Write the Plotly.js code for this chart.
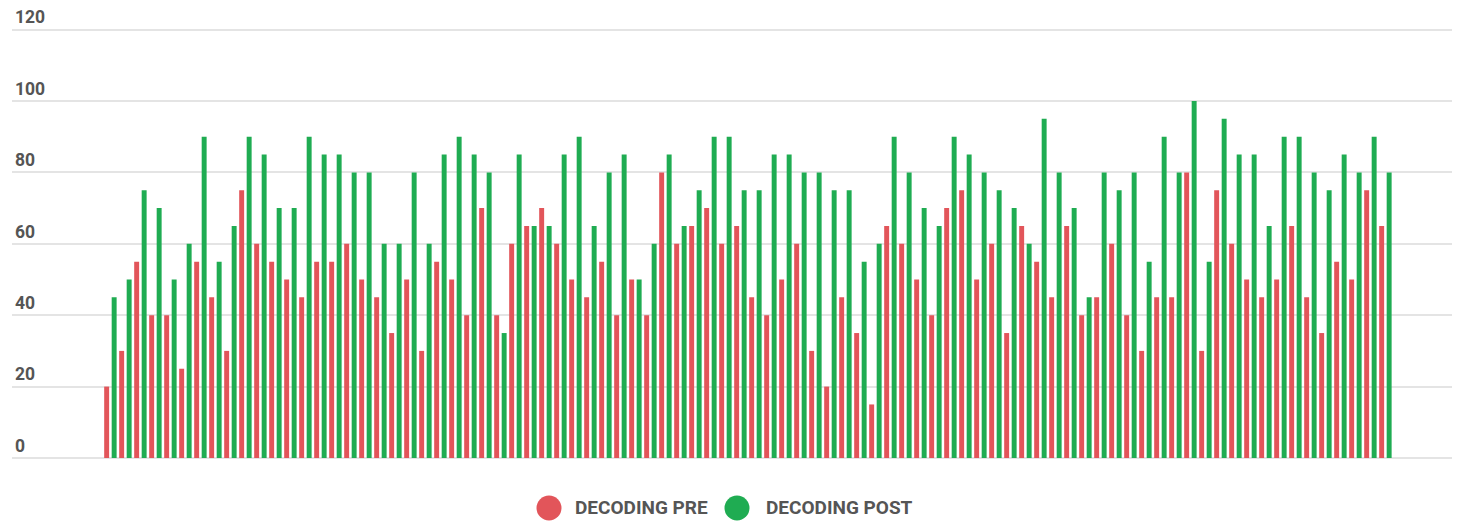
<!DOCTYPE html>
<html>
<head>
<meta charset="utf-8">
<script src="https://cdn.plot.ly/plotly-3.0.1.min.js"></script>
<style>
html,body{margin:0;padding:0;background:#fff;}
#chart{width:1462px;height:521px;}
</style>
</head>
<body>
<div id="chart"></div>
<script>
var categories = [1,2,3,4,5,6,7,8,9,10,11,12,13,14,15,16,17,18,19,20,
  21,22,23,24,25,26,27,28,29,30,31,32,33,34,35,36,37,38,39,40,
  41,42,43,44,45,46,47,48,49,50,51,52,53,54,55,56,57,58,59,60,
  61,62,63,64,65,66,67,68,69,70,71,72,73,74,75,76,77,78,79,80,
  81,82,83,84,85,86];

var decodingPre = [20,30,55,40,40,25,55,45,30,75,60,55,50,45,55,55,60,50,45,35,
  50,30,55,50,40,70,40,60,65,70,60,50,45,55,40,50,40,80,60,65,
  70,60,65,45,40,50,60,30,20,45,35,15,65,60,50,40,70,75,50,60,
  35,65,55,45,65,40,45,60,40,30,45,45,80,30,75,60,50,45,50,65,
  45,35,55,50,75,65];

var decodingPost = [45,50,75,70,50,60,90,55,65,90,85,70,70,90,85,85,80,80,60,60,
  80,60,85,90,85,80,35,85,65,65,85,90,65,80,85,50,60,85,65,75,
  90,90,75,75,85,85,80,80,75,75,55,60,90,80,70,65,90,85,80,75,
  70,60,95,80,70,45,80,75,80,55,90,80,100,55,95,85,85,65,90,90,
  80,75,85,80,90,80];

var seriesNames = ["DECODING PRE", "DECODING POST"];
var yTicks = [0,20,40,60,80,100,120];

var RED = "#e2555a", GREEN = "#1fac52", TXT = "#555555";
var W = 1462, H = 521;
var M = {l: 12, r: 10, t: 1, b: 63};
var pw = W - M.l - M.r, ph = H - M.t - M.b;
function px2x(p){ return (p - M.l) / pw; }
function px2y(p){ return (H - M.b - p) / ph; }

var traces = [
  {type:"bar", name:seriesNames[0], x:categories, y:decodingPre,
   marker:{color:RED}, showlegend:false, hoverinfo:"y"},
  {type:"bar", name:seriesNames[1], x:categories, y:decodingPost,
   marker:{color:GREEN}, showlegend:false, hoverinfo:"y"}
];

var legendY = 508;
var shapes = [
  {type:"circle", xref:"paper", yref:"paper", xsizemode:"pixel", ysizemode:"pixel",
   xanchor:px2x(549), yanchor:px2y(legendY), x0:-12.5, x1:12.5, y0:-12.5, y1:12.5,
   fillcolor:RED, line:{width:0}},
  {type:"circle", xref:"paper", yref:"paper", xsizemode:"pixel", ysizemode:"pixel",
   xanchor:px2x(737), yanchor:px2y(legendY), x0:-12.5, x1:12.5, y0:-12.5, y1:12.5,
   fillcolor:GREEN, line:{width:0}}
];
var annotations = [
  {xref:"paper", yref:"paper", x:px2x(573), y:px2y(legendY), xanchor:"left", yanchor:"middle",
   text:seriesNames[0], showarrow:false,
   font:{family:"Roboto, sans-serif", size:19, color:TXT, weight:700}},
  {xref:"paper", yref:"paper", x:px2x(764), y:px2y(legendY), xanchor:"left", yanchor:"middle",
   text:seriesNames[1], showarrow:false,
   font:{family:"Roboto, sans-serif", size:19, color:TXT, weight:700}}
];

var layout = {
  width: W, height: H,
  margin: M,
  paper_bgcolor: "#ffffff", plot_bgcolor: "#ffffff",
  barmode: "group", bargap: 0, bargroupgap: 0.34,
  showlegend: false,
  xaxis: {type:"linear", range:[1 - (110.4 - M.l)/15, 86 + (M.l + pw - 110.4 - 85*15)/15],
          showgrid:false, zeroline:false, showticklabels:false, ticks:"", showline:false, fixedrange:true},
  yaxis: {range:[0,128], tickvals:yTicks, ticktext:yTicks.map(String),
          showgrid:true, gridcolor:"#e4e4e4", gridwidth:2,
          zeroline:true, zerolinecolor:"#e4e4e4", zerolinewidth:2,
          showline:false, ticks:"", ticklabelposition:"inside top",
          tickfont:{family:"Roboto, sans-serif", size:17.5, color:TXT, weight:700},
          fixedrange:true},
  shapes: shapes,
  annotations: annotations,
  font: {family:"Roboto, sans-serif", color:TXT}
};

Plotly.newPlot("chart", traces, layout, {displayModeBar:false, staticPlot:true});
</script>
</body>
</html>
